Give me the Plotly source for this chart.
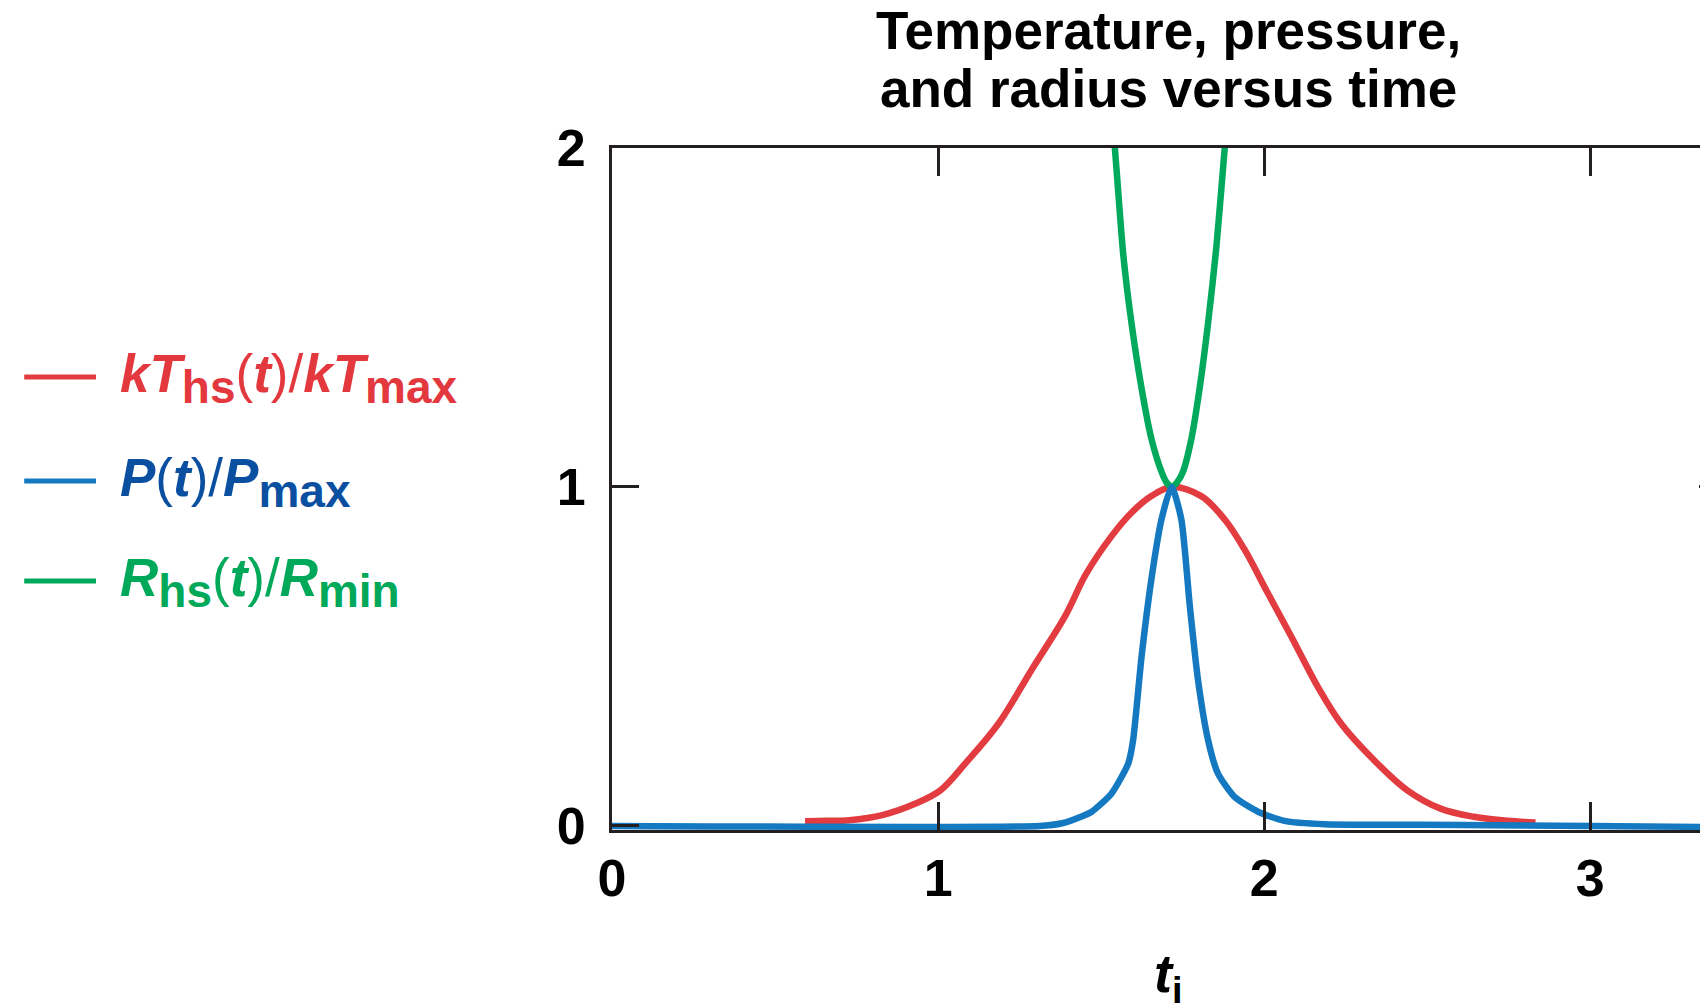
import plotly.graph_objects as go

# ---------------- data ----------------
t_kT = [0.592, 0.66, 0.727, 0.829, 0.931, 1.007, 1.083, 1.186, 1.287, 1.389,
        1.453, 1.532, 1.593, 1.654, 1.716, 1.807, 1.879, 1.940, 2.011,
        2.083, 2.164, 2.235, 2.337, 2.439, 2.541, 2.643, 2.745, 2.832]
kT = [0.014, 0.015, 0.017, 0.032, 0.066, 0.105, 0.184, 0.303, 0.461, 0.618,
      0.742, 0.855, 0.924, 0.973, 1.000, 0.973, 0.904, 0.815, 0.687,
      0.559, 0.411, 0.303, 0.194, 0.105, 0.051, 0.027, 0.015, 0.010]

t_P = [0.0, 1.31, 1.38, 1.44, 1.471, 1.532, 1.583, 1.598, 1.624, 1.654,
       1.685, 1.716, 1.746, 1.772, 1.797, 1.828, 1.858, 1.909, 1.981, 2.062,
       2.185, 2.6, 3.0, 3.36]
P = [0.0, 0.0, 0.008, 0.028, 0.042, 0.096, 0.184, 0.253, 0.500, 0.727,
     0.904, 1.000, 0.904, 0.648, 0.431, 0.253, 0.155, 0.086, 0.042, 0.015,
     0.005, 0.003, 0.0, -0.003]

t_R = [1.530, 1.542, 1.568, 1.593, 1.624, 1.654, 1.685, 1.700, 1.716, 1.733,
       1.751, 1.777, 1.802, 1.828, 1.853, 1.879, 1.890]
R = [2.12, 2.00, 1.684, 1.484, 1.291, 1.143, 1.045, 1.014, 1.000, 1.014,
     1.045, 1.143, 1.291, 1.484, 1.704, 2.00, 2.12]

x_ticks = [0, 1, 2, 3]
y_ticks = [0, 1, 2]
x_range = [0, 3.361]
y_range = [-0.012, 2.0]

title_lines = ["Temperature, pressure,", "and radius versus time"]
x_title = "<i>t</i><sub>i</sub>"

SUBS = '<sub><span style="font-size:46px">{}</span></sub>'
NW = '<span style="font-weight:normal">{}</span>'
legend_labels = [
    "<i>kT</i>" + SUBS.format("hs") + NW.format("(") + "<i>t</i>" + NW.format(")/")
    + "<i>kT</i>" + SUBS.format("max"),
    "<i>P</i>" + NW.format("(") + "<i>t</i>" + NW.format(")/") + "<i>P</i>" + SUBS.format("max"),
    "<i>R</i>" + SUBS.format("hs") + NW.format("(") + "<i>t</i>" + NW.format(")/")
    + "<i>R</i>" + SUBS.format("min"),
]

# ---------------- styles ----------------
RED, BLUE, GREEN = "#E23C41", "#1479C0", "#00A95C"
RED_T, BLUE_T, GREEN_T = "#E2383E", "#0B50A0", "#00A859"
AX = "#231F20"
FONT = "Liberation Sans, Arial, Helvetica, sans-serif"
LW = 6.5

fig = go.Figure()
fig.add_trace(go.Scatter(x=t_kT, y=kT, mode="lines", hoverinfo="skip",
                         line=dict(color=RED, width=LW, shape="spline", smoothing=1.0)))
fig.add_trace(go.Scatter(x=t_R, y=R, mode="lines", hoverinfo="skip",
                         line=dict(color=GREEN, width=LW, shape="spline", smoothing=0.7)))
fig.add_trace(go.Scatter(x=t_P, y=P, mode="lines", hoverinfo="skip",
                         line=dict(color=BLUE, width=LW, shape="spline", smoothing=0.6)))
# empty trace so the right-hand (mirror) axis carrying the y=1 tick is drawn
fig.add_trace(go.Scatter(x=[], y=[], yaxis="y2", mode="lines", hoverinfo="skip"))

tickfont = dict(family=FONT, size=52, color="black", weight="bold")

fig.update_layout(
    width=1708, height=1004,
    margin=dict(l=604, r=8, t=140, b=182),
    paper_bgcolor="white", plot_bgcolor="white",
    showlegend=False,
    xaxis=dict(range=x_range, tickvals=x_ticks, ticktext=[str(v) for v in x_ticks],
               ticks="inside", ticklen=28, tickwidth=2.5, tickcolor=AX,
               showline=True, linewidth=3, linecolor=AX, mirror="ticks",
               showgrid=False, zeroline=False, tickfont=tickfont,
               ticklabelstandoff=1),
    yaxis=dict(range=y_range, tickvals=y_ticks, ticktext=[str(v) for v in y_ticks],
               ticks="inside", ticklen=27, tickwidth=2.5, tickcolor=AX,
               showline=True, linewidth=3, linecolor=AX,
               showgrid=False, zeroline=False, tickfont=tickfont,
               ticklabelstandoff=13),
    yaxis2=dict(range=y_range, overlaying="y", side="right", tickvals=[1],
                ticks="inside", ticklen=9, tickwidth=3, tickcolor=AX,
                showticklabels=False, showline=False, showgrid=False, zeroline=False),
)

annotations = []
# title (two lines)
for txt, yp in zip(title_lines, [1.172, 1.087]):
    annotations.append(dict(text=txt, x=0.508, y=yp, xref="paper", yref="paper",
                            xanchor="center", yanchor="middle", showarrow=False,
                            font=dict(family=FONT, size=53, color="black", weight="bold")))
# x axis title
annotations.append(dict(text=x_title, x=0.508, y=-0.215, xref="paper", yref="paper",
                        xanchor="center", yanchor="middle", showarrow=False,
                        font=dict(family=FONT, size=54, color="black", weight="bold")))

# legend (manual)
leg_y = [0.6642, 0.5117, 0.3651]
leg_line_colors = [RED, BLUE, GREEN]
leg_text_colors = [RED_T, BLUE_T, GREEN_T]
shapes = []
for lab, yl, lc, tc in zip(legend_labels, leg_y, leg_line_colors, leg_text_colors):
    shapes.append(dict(type="line", xref="paper", yref="paper",
                       x0=-0.5363, x1=-0.4708, y0=yl, y1=yl,
                       line=dict(color=lc, width=5)))
    annotations.append(dict(text=lab, x=-0.4510, y=yl, xref="paper", yref="paper",
                            xanchor="left", yanchor="middle", yshift=-1, showarrow=False,
                            font=dict(family=FONT, size=53, color=tc, weight="bold")))

fig.update_layout(annotations=annotations, shapes=shapes)
fig.write_html("out.html")
